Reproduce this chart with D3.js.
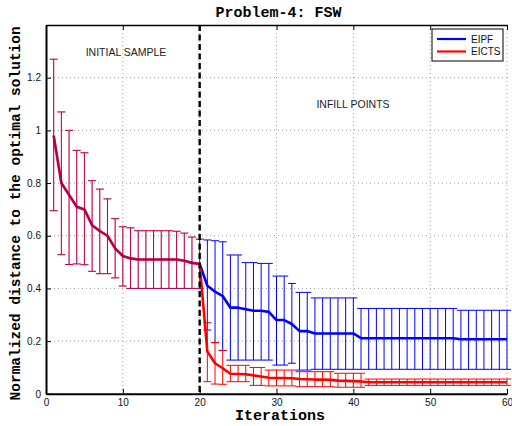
<!DOCTYPE html>
<html><head><meta charset="utf-8">
<script src="https://cdn.jsdelivr.net/npm/d3@7"></script>
<style>body{margin:0;background:#fff}</style>
</head><body><svg id="c" width="512" height="426"></svg>
<script>
// ---------- data ----------
const initialIter = [1,2,3,4,5,6,7,8,9,10,11,12,13,14,15,16,17,18,19,20];
const infillIter = [21,22,23,24,25,26,27,28,29,30,31,32,33,34,35,36,37,38,39,40,41,42,43,44,45,46,47,48,49,50,51,52,53,54,55,56,57,58,59,60];

// initial sample (shared by both methods)
const initialMean = [0.98,0.80,0.755,0.71,0.70,0.64,0.618,0.60,0.552,0.523,0.514,0.51,0.51,0.51,0.51,0.51,0.51,0.505,0.497,0.493];
const initialHigh = [1.27,1.07,1.00,0.924,0.915,0.809,0.777,0.74,0.665,0.634,0.63,0.619,0.619,0.619,0.619,0.619,0.617,0.61,0.595,0.587];
const initialLow  = [0.695,0.528,0.491,0.493,0.49,0.465,0.456,0.456,0.44,0.409,0.40,0.40,0.40,0.40,0.40,0.40,0.40,0.40,0.40,0.40];

// EIPF infill points
const eipfMean = [0.41,0.388,0.371,0.327,0.327,0.321,0.315,0.315,0.311,0.28,0.28,0.265,0.238,0.238,0.229,0.229,0.229,0.229,0.229,0.229,
  0.211,0.211,0.211,0.211,0.211,0.211,0.211,0.211,0.211,0.211,0.211,0.211,0.211,0.207,0.207,0.207,0.207,0.207,0.207,0.207];
const eipfHigh = [0.584,0.581,0.577,0.527,0.527,0.498,0.498,0.495,0.495,0.447,0.447,0.419,0.385,0.385,0.364,0.364,0.364,0.364,0.364,0.364,
  0.324,0.324,0.324,0.324,0.324,0.324,0.324,0.324,0.324,0.324,0.324,0.324,0.324,0.317,0.317,0.317,0.317,0.317,0.317,0.317];
const eipfLow = [0.242,0.194,0.164,0.128,0.128,0.128,0.128,0.128,0.128,0.109,0.109,0.116,0.09,0.09,0.093,0.093,0.093,0.093,0.093,0.093,
  0.093,0.093,0.093,0.093,0.093,0.093,0.093,0.093,0.093,0.093,0.093,0.093,0.093,0.093,0.093,0.093,0.093,0.093,0.093,0.093];

// EICTS infill points
const eictsMean = [0.16,0.116,0.097,0.076,0.075,0.074,0.07,0.066,0.061,0.06,0.06,0.059,0.056,0.055,0.054,0.054,0.053,0.05,0.049,0.048,0.047,
  0.044,0.044,0.044,0.044,0.044,0.044,0.044,0.044,0.044,0.044,0.044,0.044,0.044,0.044,0.044,0.044,0.044,0.044,0.044];
const eictsHigh = [0.27,0.195,0.165,0.108,0.108,0.108,0.10,0.10,0.09,0.09,0.09,0.09,0.084,0.084,0.084,0.084,0.084,0.078,0.078,0.078,0.078,
  0.056,0.056,0.056,0.056,0.056,0.056,0.056,0.056,0.056,0.056,0.056,0.056,0.056,0.056,0.056,0.056,0.056,0.056,0.056];
const eictsLow = [0.046,0.037,0.036,0.046,0.046,0.046,0.032,0.032,0.03,0.03,0.03,0.03,0.027,0.027,0.027,0.027,0.027,0.025,0.025,0.025,0.025,
  0.032,0.032,0.032,0.032,0.032,0.032,0.032,0.032,0.032,0.032,0.032,0.032,0.032,0.032,0.032,0.032,0.032,0.032,0.032];

const seriesNames = ["EIPF", "EICTS"];
const xTicks = [0,10,20,30,40,50,60];
const yTicks = [0,0.2,0.4,0.6,0.8,1.0,1.2];
const xTickLabels = ["0","10","20","30","40","50","60"];
const yTickLabels = ["0","0.2","0.4","0.6","0.8","1","1.2"];
const splitIteration = 20;
const titleText = "Problem-4: FSW";
const xLabelText = "Iterations";
const yLabelText = "Normalized distance to the optimal solution";
const noteLeft = "INITIAL SAMPLE";
const noteRight = "INFILL POINTS";

// ---------- layout ----------
const BLUE = "#0000ff", RED = "#ff0000";
const L = 46, R = 507, T = 25, B = 393.8;
const svg = d3.select("#c");
const x = d3.scaleLinear().domain([0, 60]).range([L, R]);
const y = d3.scaleLinear().domain([0, 1.4]).range([B, T]);
const sans = "'Liberation Sans', Arial, sans-serif";
const mono = "'Liberation Mono', 'Courier New', monospace";

function rows(iters, mean, low, high) {
  return iters.map((it, k) => ({it, m: mean[k], lo: low[k], hi: high[k]}));
}
const initRows = rows(initialIter, initialMean, initialLow, initialHigh);
const eipfRows = rows(infillIter, eipfMean, eipfLow, eipfHigh);
const eictsRows = rows(infillIter, eictsMean, eictsLow, eictsHigh);
const lastInit = initRows[initRows.length - 1];

// ---------- grid ----------
const grid = svg.append("g");
grid.selectAll("line.gx").data(xTicks.filter(d => d > 0)).join("line")
  .attr("x1", d => x(d)).attr("x2", d => x(d)).attr("y1", T).attr("y2", B)
  .attr("stroke", "#8a8a8a").attr("stroke-width", 0.8).attr("stroke-dasharray", "1,3");
grid.selectAll("line.gy").data(yTicks.filter(d => d > 0)).join("line")
  .attr("x1", L).attr("x2", R).attr("y1", d => y(d)).attr("y2", d => y(d))
  .attr("stroke", "#8a8a8a").attr("stroke-width", 0.8).attr("stroke-dasharray", "1,3");

// ---------- series drawing helpers ----------
const line = d3.line().x(d => x(d.it)).y(d => y(d.m));
function drawBars(g, data, color, opacity) {
  const cap = 4;
  const bars = g.append("g").attr("stroke", color).attr("stroke-width", 1).attr("opacity", opacity);
  data.forEach(d => {
    const cx = x(d.it);
    bars.append("line").attr("x1", cx).attr("x2", cx).attr("y1", y(d.lo)).attr("y2", y(d.hi));
    bars.append("line").attr("x1", cx - cap).attr("x2", cx + cap).attr("y1", y(d.lo)).attr("y2", y(d.lo));
    bars.append("line").attr("x1", cx - cap).attr("x2", cx + cap).attr("y1", y(d.hi)).attr("y2", y(d.hi));
  });
}
function drawLine(g, data, color, opacity) {
  g.append("path").datum(data).attr("d", line).attr("fill", "none")
    .attr("stroke", color).attr("stroke-width", 2.6).attr("stroke-linejoin", "round")
    .attr("opacity", opacity);
}

const plot = svg.append("g");
// EIPF infill
drawBars(plot, eipfRows, BLUE, 1);
drawLine(plot, [lastInit].concat(eipfRows), BLUE, 1);
// EICTS (initial + infill)
drawBars(plot, initRows, RED, 1);
drawBars(plot, eictsRows, RED, 1);
drawLine(plot, initRows.concat(eictsRows), RED, 1);
// EIPF initial sample overlapping EICTS
drawBars(plot, initRows, BLUE, 0.28);
drawLine(plot, initRows, BLUE, 0.28);

// ---------- split line ----------
svg.append("line").attr("x1", x(splitIteration)).attr("x2", x(splitIteration))
  .attr("y1", T).attr("y2", B).attr("stroke", "#000").attr("stroke-width", 2.4)
  .attr("stroke-dasharray", "6,3.5");

// ---------- axes ----------
const axes = svg.append("g");
const xAxis = d3.axisBottom(x).tickValues(xTicks).tickFormat((d, i) => xTickLabels[i]).tickSizeInner(-5).tickSizeOuter(0).tickPadding(5);
const yAxis = d3.axisLeft(y).tickValues(yTicks).tickFormat((d, i) => yTickLabels[i]).tickSizeInner(-5).tickSizeOuter(0).tickPadding(5);
const xTop = d3.axisTop(x).tickValues(xTicks).tickFormat("").tickSizeInner(-5).tickSizeOuter(0);
const gx = axes.append("g").attr("transform", `translate(0,${B})`).call(xAxis);
const gy = axes.append("g").attr("transform", `translate(${L},0)`).call(yAxis);
const gt = axes.append("g").attr("transform", `translate(0,${T})`).call(xTop);
[gx, gy].forEach(g => {
  g.select(".domain").attr("stroke", "#000").attr("stroke-width", 2);
  g.selectAll(".tick line").attr("stroke", "#000").attr("stroke-width", 1);
  g.selectAll(".tick text").attr("font-family", sans).attr("font-size", 10).attr("fill", "#111");
});
gt.select(".domain").attr("stroke", "#000").attr("stroke-width", 1.5);
gt.selectAll(".tick line").attr("stroke", "#000").attr("stroke-width", 1);

// ---------- texts ----------
svg.append("text").attr("x", (L + R) / 2 + 2).attr("y", 17).attr("text-anchor", "middle")
  .attr("font-family", mono).attr("font-weight", "bold").attr("font-size", 15).attr("fill", "#000").text(titleText);
svg.append("text").attr("x", 280).attr("y", 420).attr("text-anchor", "middle")
  .attr("font-family", mono).attr("font-weight", "bold").attr("font-size", 15).attr("fill", "#000").text(xLabelText);
svg.append("text").attr("transform", `translate(20,${(T + B) / 2 + 4}) rotate(-90)`).attr("text-anchor", "middle")
  .attr("font-family", mono).attr("font-weight", "bold").attr("font-size", 14.5).attr("fill", "#000").text(yLabelText);
svg.append("text").attr("x", 126).attr("y", 56).attr("text-anchor", "middle")
  .attr("font-family", sans).attr("font-size", 10.5).attr("fill", "#222").text(noteLeft);
svg.append("text").attr("x", 353).attr("y", 108).attr("text-anchor", "middle")
  .attr("font-family", sans).attr("font-size", 10.5).attr("fill", "#222").text(noteRight);

// ---------- legend ----------
const lg = svg.append("g");
lg.append("rect").attr("x", 432).attr("y", 29).attr("width", 71).attr("height", 32)
  .attr("fill", "#fff").attr("stroke", "#000").attr("stroke-width", 1);
const legendColors = [BLUE, RED];
seriesNames.forEach((name, k) => {
  const ly = 39 + k * 12.5;
  lg.append("line").attr("x1", 437).attr("x2", 466).attr("y1", ly).attr("y2", ly)
    .attr("stroke", legendColors[k]).attr("stroke-width", 2.2);
  lg.append("text").attr("x", 471).attr("y", ly + 3.6).attr("font-family", sans).attr("font-size", 10)
    .attr("fill", "#111").text(name);
});
</script></body></html>
